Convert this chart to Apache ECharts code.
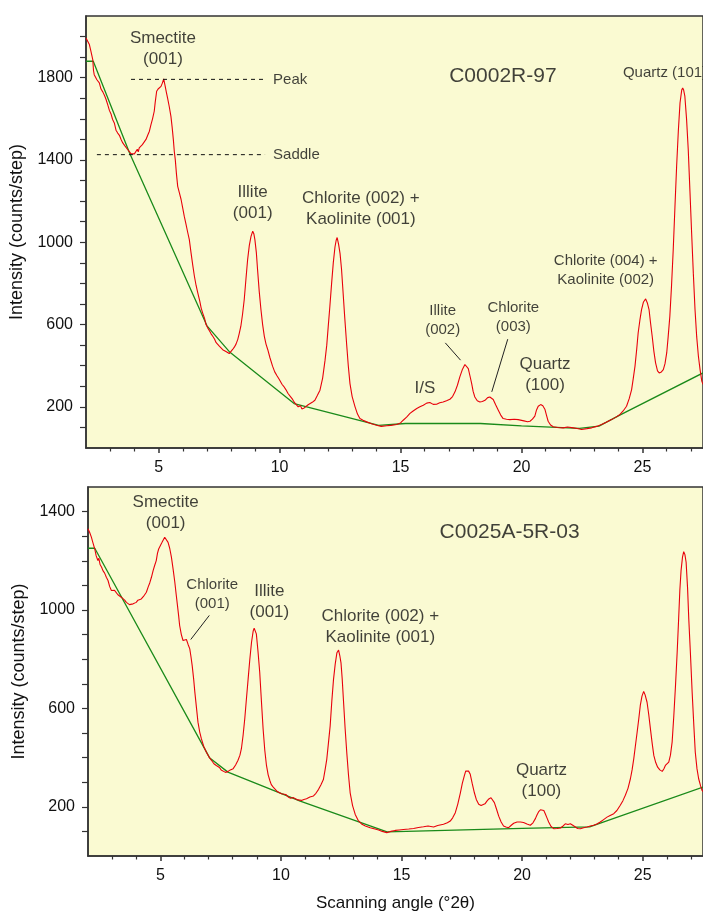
<!DOCTYPE html>
<html>
<head>
<meta charset="utf-8">
<script src="https://cdn.jsdelivr.net/npm/echarts@6/dist/echarts.min.js"></script>
<style>
  html, body { margin: 0; padding: 0; background: #fff; }
  #main { width: 703px; height: 913px; }
</style>
</head>
<body>
<div id="main"></div>
<script>
// XRD patterns, two samples. x = scanning angle (deg 2theta), y = counts/step
var topCounts = [
  [2.00,1993],[2.07,1985],[2.14,1961],[2.2,1930],[2.28,1888],[2.31,1835],[2.34,1815],[2.4,1808],[2.45,1790],[2.55,1775],
  [2.62,1745],[2.7,1730],[2.77,1712],[2.83,1694],[2.9,1668],[2.97,1640],[3.03,1625],[3.10,1597],[3.17,1580],[3.24,1545],
  [3.31,1531],[3.38,1520],[3.45,1500],[3.52,1483],[3.6,1470],[3.66,1462],[3.72,1451],[3.8,1440],[3.86,1430],[3.93,1431],
  [4.0,1430],[4.07,1437],[4.12,1452],[4.16,1440],[4.20,1459],[4.27,1466],[4.33,1475],[4.41,1483],[4.48,1500],[4.55,1520],
  [4.62,1540],[4.68,1570],[4.75,1600],[4.82,1637],[4.86,1680],[4.92,1734],[4.98,1745],[5.04,1750],[5.10,1758],[5.16,1775],
  [5.21,1794],[5.27,1760],[5.32,1730],[5.37,1702],[5.44,1660],[5.51,1612],[5.56,1560],[5.61,1499],[5.65,1440],[5.69,1402],
  [5.74,1330],[5.79,1272],[5.86,1240],[5.93,1208],[6.0,1165],[6.06,1127],[6.13,1090],[6.2,1050],[6.27,1013],[6.34,950],
  [6.41,890],[6.48,835],[6.55,790],[6.62,754],[6.7,715],[6.76,680],[6.82,657],[6.9,630],[6.96,600],[7.03,584],
  [7.1,570],[7.17,555],[7.24,543],[7.31,530],[7.38,512],[7.45,505],[7.51,495],[7.58,488],[7.65,478],[7.72,470],
  [7.8,468],[7.86,460],[7.92,459],[8.0,462],[8.06,479],[8.13,490],[8.2,505],[8.27,527],[8.33,555],[8.40,592],
  [8.47,650],[8.54,722],[8.61,820],[8.68,916],[8.75,985],[8.82,1029],[8.89,1054],[8.94,1040],[8.98,1013],[9.04,950],
  [9.09,868],[9.16,760],[9.23,673],[9.3,600],[9.37,543],[9.44,505],[9.51,479],[9.6,440],[9.71,398],[9.8,370],
  [9.9,350],[9.99,333],[10.1,310],[10.17,300],[10.26,284],[10.35,265],[10.45,250],[10.54,236],[10.62,220],[10.7,210],
  [10.77,200],[10.81,195],[10.87,205],[10.92,190],[11.02,195],[11.1,200],[11.18,210],[11.26,208],[11.35,222],[11.46,232],
  [11.56,255],[11.67,281],[11.78,340],[11.88,427],[11.95,500],[12.01,589],[12.08,690],[12.15,799],[12.22,900],[12.29,977],
  [12.34,1010],[12.38,1023],[12.44,990],[12.50,945],[12.56,870],[12.61,783],[12.69,640],[12.77,508],[12.84,400],[12.91,313],
  [13.0,250],[13.12,200],[13.22,165],[13.32,143],[13.45,135],[13.60,127],[13.8,118],[14.01,111],[14.2,105],[14.43,108],
  [14.6,110],[14.84,114],[15.0,122],[15.11,135],[15.25,150],[15.39,168],[15.52,180],[15.67,192],[15.8,200],[15.94,208],
  [16.08,218],[16.21,221],[16.35,212],[16.49,213],[16.62,220],[16.76,224],[16.9,230],[17.04,237],[17.15,250],[17.25,273],
  [17.35,305],[17.45,346],[17.55,380],[17.66,406],[17.73,400],[17.80,386],[17.87,350],[17.94,313],[18.0,275],[18.07,248],
  [18.17,230],[18.28,224],[18.38,226],[18.49,232],[18.6,245],[18.69,248],[18.76,245],[18.83,236],[18.93,210],[19.04,184],
  [19.14,160],[19.24,143],[19.38,140],[19.52,138],[19.7,140],[19.86,138],[19.93,135],[20.1,132],[20.25,128],[20.35,130],
  [20.45,140],[20.55,155],[20.62,185],[20.69,203],[20.79,211],[20.88,205],[20.97,187],[21.03,160],[21.10,130],[21.2,112],
  [21.31,103],[21.5,100],[21.72,98],[21.9,102],[22.14,98],[22.3,95],[22.48,90],[22.7,94],[22.9,98],[23.1,105],
  [23.31,114],[23.5,125],[23.72,138],[23.9,150],[24.07,163],[24.2,180],[24.34,203],[24.45,240],[24.55,284],[24.62,340],
  [24.69,398],[24.76,480],[24.82,559],[24.89,620],[24.96,673],[25.04,710],[25.13,725],[25.2,705],[25.27,673],[25.33,610],
  [25.40,543],[25.47,470],[25.54,414],[25.62,375],[25.69,365],[25.78,370],[25.86,381],[25.93,410],[26.0,462],[26.06,540],
  [26.13,641],[26.2,790],[26.27,965],[26.34,1170],[26.41,1370],[26.48,1540],[26.55,1677],[26.62,1740],[26.66,1750],[26.70,1740],
  [26.75,1710],[26.82,1600],[26.89,1451],[26.96,1250],[27.03,1045],[27.1,850],[27.17,673],[27.24,540],[27.31,446],[27.38,380],
  [27.45,325],[27.5,310]
];
var topBackground = [
  [2.0,1880],[2.3,1880],[3.8,1434],[7.0,594],[7.95,465],[10.6,216],[14.1,110],[15.2,119],[18.3,119],[20.0,108],
  [22.4,95],[23.2,106],[24.1,162],[27.5,365]
];
var bottomCounts = [
  [2.0,1330],[2.07,1315],[2.14,1296],[2.2,1275],[2.24,1280],[2.28,1248],[2.34,1220],[2.41,1201],[2.45,1210],[2.5,1185],
  [2.56,1175],[2.62,1160],[2.69,1150],[2.76,1133],[2.83,1120],[2.9,1095],[2.97,1079],[3.03,1085],[3.1,1080],[3.17,1075],
  [3.24,1062],[3.31,1058],[3.38,1052],[3.45,1045],[3.52,1040],[3.59,1031],[3.66,1030],[3.72,1022],[3.80,1015],[3.87,1025],
  [3.93,1028],[4.00,1031],[4.07,1040],[4.14,1038],[4.21,1045],[4.3,1055],[4.36,1062],[4.42,1072],[4.5,1095],[4.56,1110],
  [4.63,1133],[4.7,1160],[4.76,1180],[4.83,1201],[4.88,1230],[4.93,1248],[5.0,1255],[5.07,1275],[5.12,1285],[5.18,1296],
  [5.25,1290],[5.32,1275],[5.39,1250],[5.46,1214],[5.53,1165],[5.60,1113],[5.66,1060],[5.71,1018],[5.76,975],[5.80,937],
  [5.87,900],[5.94,876],[6.0,870],[6.08,880],[6.15,860],[6.22,842],[6.27,810],[6.32,774],[6.38,720],[6.43,666],
  [6.5,600],[6.56,544],[6.63,505],[6.70,477],[6.8,445],[6.91,422],[7.0,405],[7.12,389],[7.22,375],[7.32,368],
  [7.45,360],[7.52,350],[7.60,352],[7.7,340],[7.81,344],[7.9,350],[7.95,345],[8.02,355],[8.12,370],[8.22,389],
  [8.3,410],[8.36,436],[8.43,490],[8.50,558],[8.57,640],[8.64,720],[8.71,800],[8.78,869],[8.85,915],[8.89,926],
  [8.94,918],[8.98,903],[9.05,830],[9.12,747],[9.19,630],[9.26,517],[9.33,430],[9.40,368],[9.47,330],[9.54,307],
  [9.6,290],[9.68,280],[9.75,274],[9.85,262],[9.92,255],[10.02,253],[10.1,245],[10.2,250],[10.3,240],[10.4,235],
  [10.5,238],[10.58,233],[10.7,228],[10.85,226],[10.95,230],[11.06,233],[11.2,240],[11.35,244],[11.45,255],[11.56,271],
  [11.66,290],[11.76,311],[11.83,350],[11.90,393],[11.97,460],[12.04,528],[12.11,630],[12.18,718],[12.25,780],[12.32,826],
  [12.39,837],[12.44,815],[12.49,785],[12.54,720],[12.59,636],[12.66,520],[12.73,420],[12.8,330],[12.87,257],[12.97,205],
  [13.08,169],[13.2,145],[13.36,129],[13.5,122],[13.70,115],[13.9,110],[14.05,106],[14.2,100],[14.39,95],[14.55,100],
  [14.74,104],[14.9,106],[15.08,108],[15.3,110],[15.50,112],[15.7,116],[15.91,119],[16.1,122],[16.33,118],[16.5,124],
  [16.74,129],[16.9,135],[17.02,142],[17.12,155],[17.23,176],[17.33,210],[17.44,257],[17.52,295],[17.60,325],[17.66,345],
  [17.71,352],[17.78,345],[17.85,332],[17.93,295],[18.02,257],[18.1,230],[18.20,210],[18.3,205],[18.38,203],[18.46,212],
  [18.54,223],[18.62,232],[18.71,237],[18.78,230],[18.85,217],[18.94,190],[19.03,162],[19.13,138],[19.23,122],[19.33,118],
  [19.44,115],[19.55,125],[19.65,133],[19.79,138],[19.93,138],[20.06,136],[20.2,130],[20.34,125],[20.45,135],[20.55,152],
  [20.62,168],[20.68,179],[20.76,188],[20.83,192],[20.9,185],[20.96,172],[21.03,155],[21.10,138],[21.2,120],[21.31,111],
  [21.45,112],[21.59,114],[21.7,122],[21.79,131],[21.9,128],[22.00,131],[22.1,125],[22.21,118],[22.3,112],[22.41,111],
  [22.55,115],[22.69,118],[22.83,122],[22.97,125],[23.1,130],[23.24,138],[23.38,148],[23.52,158],[23.65,165],[23.80,172],
  [23.93,185],[24.07,206],[24.18,225],[24.28,247],[24.39,275],[24.49,314],[24.56,350],[24.63,396],[24.7,450],[24.77,504],
  [24.84,560],[24.90,612],[24.97,650],[25.04,669],[25.1,655],[25.18,625],[25.25,575],[25.32,517],[25.39,460],[25.46,409],
  [25.54,380],[25.62,361],[25.71,350],[25.81,344],[25.88,355],[25.94,368],[26.01,372],[26.08,382],[26.15,410],[26.22,463],
  [26.29,570],[26.36,693],[26.43,830],[26.49,964],[26.54,1080],[26.59,1160],[26.65,1215],[26.70,1237],[26.75,1225],[26.80,1194],
  [26.86,1090],[26.91,964],[26.98,820],[27.05,666],[27.12,530],[27.18,422],[27.25,355],[27.32,314],[27.4,285],[27.46,267],
  [27.5,262]
];
var bottomBackground = [
  [2.0,1251],[2.28,1251],[7.05,398],[7.8,341],[10.8,223],[14.4,98],[20.0,112],[22.8,118],[27.5,280]
];

// peak / saddle reference lines of smectite (001), sample C0002R-97
var peakLine = [[3.86,1792],[9.4,1792]];
var saddleLine = [[2.45,1426],[9.4,1426]];

// axis ticks
var angleTicks = [5, 10, 15, 20, 25];
var angleMinorTicks = [3,4,6,7,8,9,11,12,13,14,16,17,18,19,21,22,23,24,26,27];
var topIntensityTicks = [100,200,300,400,500,600,700,800,900,1000,1100,1200,1300,1400,1500,1600,1700,1800,1900,2000];
var topIntensityLabels = [200, 600, 1000, 1400, 1800];
var bottomIntensityTicks = [100,200,300,400,500,600,700,800,900,1000,1100,1200,1300,1400];
var bottomIntensityLabels = [200, 600, 1000, 1400];

// annotations [angle, intensity, text]
var topNotes = [
  [5.18,1941,'Smectite\n(001)'],
  [8.89,1192,'Illite\n(001)'],
  [13.36,1165,'Chlorite (002) +\nKaolinite (001)'],
  [16.01,290,'I/S'],
  [20.97,354,'Quartz\n(100)']
];
var topSmallNotes = [
  [16.74,619,'Illite\n(002)'],
  [19.66,636,'Chlorite\n(003)'],
  [23.48,864,'Chlorite (004) +\nKaolinite (002)']
];
var topSideNotes = [
  [9.73,1792,'Peak'],
  [9.73,1426,'Saddle'],
  [24.19,1822,'Quartz (101)']
];
var topLeaders = [
  [[16.85,511],[17.48,427]],
  [[19.43,529],[18.77,273]]
];
var topSample = [[19.23,1807,'C0002R-97']];

var bottomNotes = [
  [5.22,1397,'Smectite\n(001)'],
  [9.52,1034,'Illite\n(001)'],
  [14.12,933,'Chlorite (002) +\nKaolinite (001)'],
  [20.80,305,'Quartz\n(100)']
];
var bottomSmallNotes = [
  [7.15,1063,'Chlorite\n(001)']
];
var bottomLeaders = [
  [[7.03,978],[6.26,880]]
];
var bottomSample = [[19.48,1317,'C0025A-5R-03']];

var FONT = '"Liberation Sans", Arial, sans-serif';
var INK = '#333';

function xAxes(gi, showName){
  return [{
    gridIndex: gi, type: 'value', min: 2, max: 27.5, position: 'bottom',
    axisLine: { lineStyle: { color: INK, width: 1.5 } },
    axisTick: { customValues: angleTicks, length: 5, lineStyle: { color: INK, width: 1.5 } },
    axisLabel: { customValues: angleTicks, fontSize: 16, color: '#111', fontFamily: FONT, margin: 12 },
    splitLine: { show: false },
    name: showName ? 'Scanning angle (°2θ)' : '', nameLocation: 'middle', nameGap: 39,
    nameTextStyle: { fontSize: 17, color: '#111', fontFamily: FONT }
  }, {
    gridIndex: gi, type: 'value', min: 2, max: 27.5, position: 'bottom',
    axisLine: { show: false },
    axisTick: { customValues: angleMinorTicks, length: 3.5, lineStyle: { color: INK, width: 1.2 } },
    axisLabel: { show: false },
    splitLine: { show: false }
  }];
}

function yAxis(gi, max, ticks, labels){
  return {
    gridIndex: gi, type: 'value', min: 0, max: max,
    axisLine: { show: true, lineStyle: { color: INK, width: 1.5 } },
    axisTick: { show: true, customValues: ticks, length: 6, lineStyle: { color: INK, width: 1.2 } },
    axisLabel: {
      customValues: labels, fontSize: 16, color: '#111', fontFamily: FONT, margin: 13,
      formatter: function(v){ return String(v); }
    },
    splitLine: { show: false },
    name: 'Intensity (counts/step)', nameLocation: 'middle', nameGap: 52,
    nameTextStyle: { fontSize: 18, color: '#111', fontFamily: FONT }
  };
}

function line(data, gi, color, width, type){
  return {
    type: 'line', xAxisIndex: gi * 2, yAxisIndex: gi, data: data,
    showSymbol: false, symbol: 'none', silent: true, animation: false,
    lineStyle: { color: color, width: width, type: type || 'solid' }
  };
}

function notes(data, gi, size, pos, lh){
  return {
    type: 'scatter', xAxisIndex: gi * 2, yAxisIndex: gi, data: data,
    symbolSize: 0, silent: true, animation: false, z: 10,
    label: {
      show: true, position: pos || 'inside', distance: 0,
      formatter: function(p){ return p.data[2]; },
      fontSize: size, lineHeight: lh || Math.round(size * 1.22),
      color: '#111', fontFamily: FONT, align: pos === 'right' ? 'left' : 'center'
    }
  };
}

var series = [
  line(topBackground, 0, '#1a8a1a', 1.3),
  line(topCounts, 0, '#e8000b', 1.1),
  line(peakLine, 0, '#111', 1, [4, 4]),
  line(saddleLine, 0, '#111', 1, [4, 4]),
  line(bottomBackground, 1, '#1a8a1a', 1.3),
  line(bottomCounts, 1, '#e8000b', 1.1),
  notes(topNotes, 0, 17),
  notes(topSmallNotes, 0, 15, 'inside', 19),
  notes(topSideNotes, 0, 15, 'right'),
  notes(topSample, 0, 21),
  notes(bottomNotes, 1, 17),
  notes(bottomSmallNotes, 1, 15, 'inside', 19),
  notes(bottomSample, 1, 21)
];
topLeaders.forEach(function(d){ series.push(line(d, 0, '#222', 1)); });
bottomLeaders.forEach(function(d){ series.push(line(d, 1, '#222', 1)); });

var myChart = echarts.init(document.getElementById('main'), null, { renderer: 'canvas' });
myChart.setOption({
  animation: false,
  backgroundColor: '#fff',
  textStyle: { fontFamily: FONT },
  grid: [
    { left: 86, top: 16, right: 0, height: 432, show: true, backgroundColor: '#fafad2', borderColor: INK, borderWidth: 1.5 },
    { left: 88, top: 487, right: 0, height: 370, show: true, backgroundColor: '#fafad2', borderColor: INK, borderWidth: 1.5 }
  ],
  xAxis: xAxes(0, false).concat(xAxes(1, true)),
  yAxis: [
    yAxis(0, 2100, topIntensityTicks, topIntensityLabels),
    yAxis(1, 1500, bottomIntensityTicks, bottomIntensityLabels)
  ],
  series: series
});
</script>
</body>
</html>
